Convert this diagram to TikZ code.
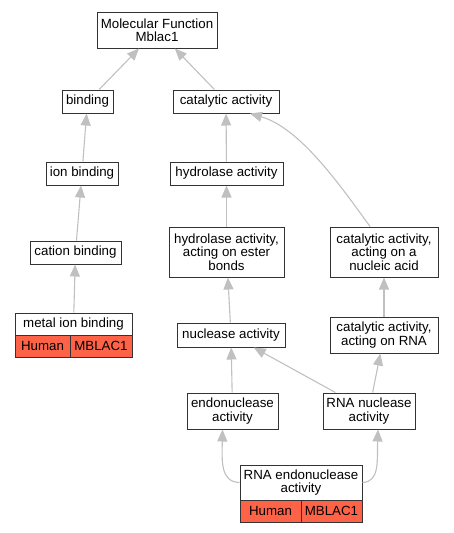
\documentclass[tikz,border=0pt]{standalone}
\usepackage{fontspec}
\setmainfont{Liberation Sans}
\usetikzlibrary{arrows.meta}
\definecolor{edgegray}{HTML}{C0C0C0}
\definecolor{boxline}{HTML}{333333}
\definecolor{hitred}{HTML}{FF6347}
\tikzset{
  term/.style={draw=boxline, line width=1pt, fill=white, inner sep=0pt, align=center,
    font=\fontsize{13.3}{13.3}\selectfont},
  hit/.style={term, fill=hitred},
  edge/.style={draw=edgegray, line width=1.1pt, -{Triangle[length=12pt,width=10pt]}}
}
\begin{document}
\begin{tikzpicture}[x=1pt,y=-1pt]
\useasboundingbox (0,0) rectangle (453,533);
\node[term, minimum width=120pt, minimum height=36pt] (mf) at (157,30) {Molecular Function\\Mblac1};
\node[term, minimum width=51pt, minimum height=23pt] (bind) at (87.5,101.5) {binding};
\node[term, minimum width=106pt, minimum height=23pt] (cat) at (226,101.5) {catalytic activity};
\node[term, minimum width=72pt, minimum height=23pt] (ion) at (82,173.5) {ion binding};
\node[term, minimum width=113pt, minimum height=23pt] (hyd) at (226.5,173.5) {hydrolase activity};
\node[term, minimum width=91pt, minimum height=23pt] (cation) at (75.5,252.5) {cation binding};
\node[term, minimum width=115pt, minimum height=50pt] (ester) at (226.5,252) {hydrolase activity,\\acting on ester\\bonds};
\node[term, minimum width=108pt, minimum height=50pt] (nucl) at (384,252) {catalytic activity,\\acting on a\\nucleic acid};
\node[term, minimum width=117pt, minimum height=22pt] (metal) at (73.5,324) {metal ion binding};
\node[hit, minimum width=55pt, minimum height=22pt] (metalh) at (42.5,346) {Human};
\node[hit, minimum width=62pt, minimum height=22pt] (metalm) at (101,346) {MBLAC1};
\node[term, minimum width=108pt, minimum height=24pt] (nuc) at (231,335) {nuclease activity};
\node[term, minimum width=108pt, minimum height=36pt] (rnacat) at (384,335) {catalytic activity,\\acting on RNA};
\node[term, minimum width=91pt, minimum height=36pt] (endo) at (232.5,411) {endonuclease\\activity};
\node[term, minimum width=92pt, minimum height=36pt] (rnanuc) at (369,411) {RNA nuclease\\activity};
\node[term, minimum width=122pt, minimum height=35pt] (rnaendo) at (301,482.5) {RNA endonuclease\\activity};
\node[hit, minimum width=61pt, minimum height=22pt] (rnaendoh) at (270.5,511) {Human};
\node[hit, minimum width=61pt, minimum height=22pt] (rnaendom) at (331.5,511) {MBLAC1};

\draw[edge] (bind) -- (mf);
\draw[edge] (cat) -- (mf);
\draw[edge] (ion) -- (bind);
\draw[edge] (cation) -- (ion);
\draw[edge] (metal) -- (cation);
\draw[edge] (hyd) -- (cat);
\draw[edge] (ester) -- (hyd);
\draw[edge] ([xshift=-14pt]nucl.north) .. controls (340,185) and (300,128) .. ([xshift=24pt]cat.south);
\draw[edge] (nuc) -- (ester);
\draw[edge] (rnacat) -- (nucl);
\draw[edge] (endo) -- (nuc);
\draw[edge] (rnanuc) -- (nuc);
\draw[edge] (rnanuc) -- (rnacat);
\draw[edge] (rnaendo.west) .. controls (220,482) and (222,460) .. ([xshift=-10pt]endo.south);
\draw[edge] (rnaendo.east) .. controls (380,482) and (377,460) .. ([xshift=9pt]rnanuc.south);
\end{tikzpicture}
\end{document}
